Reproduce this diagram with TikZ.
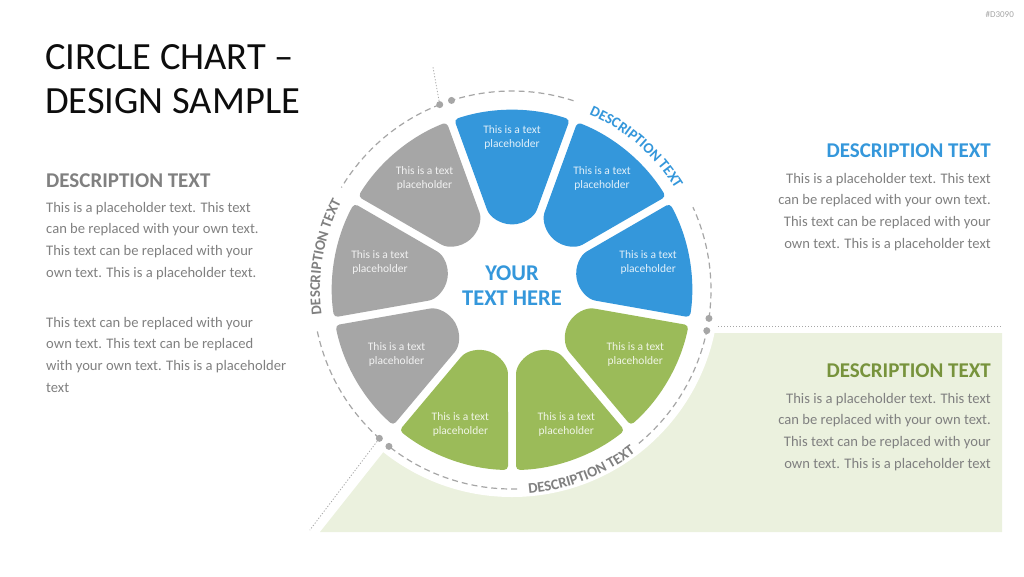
\documentclass[tikz,border=0pt]{standalone}
\usepackage{fontspec}
\setmainfont{Carlito}
\usepackage{tikz}
\usetikzlibrary{calc,decorations.text}
\definecolor{ink}{HTML}{0D0D0D}
\definecolor{azure}{HTML}{3497DB}
\definecolor{leaf}{HTML}{9BBB59}
\definecolor{stone}{HTML}{A6A6A6}
\definecolor{olive}{HTML}{77933C}
\definecolor{muted}{HTML}{808080}
\definecolor{wash}{HTML}{EBF1DE}
\tikzset{
  petal/.style={fill=#1,rounded corners=4pt},
  petaltext/.style={align=center,text=white,text opacity=0.85,
    font=\fontsize{11.5}{14}\selectfont,inner sep=0pt},
  ring/.style={draw=stone,line width=1.2pt,dash pattern=on 6pt off 4pt},
  guide/.style={draw=stone,line width=0.8pt,dash pattern=on 1.2pt off 1.8pt},
  knob/.style={circle,fill=stone,inner sep=0pt,minimum size=7pt},
  heading/.style={font=\fontsize{21}{25}\selectfont\bfseries,inner sep=0pt},
  body/.style={font=\fontsize{14.6}{21.6}\selectfont,text=muted,inner sep=0pt},
  arclabel/.style={decorate,decoration={text along path,text align=center,text color=#1,
    text={|\fontsize{14.8}{15}\selectfont\bfseries|DESCRIPTION TEXT}}}
}

\begin{document}
\begin{tikzpicture}[x=1pt,y=1pt]
  \useasboundingbox (0,0) rectangle (1024,-576);
  \coordinate (c) at (512,-290);
  % backdrop behind the lower right block
  \fill[wash] (320,-532) -- (c) -- (512,-333) -- (1002,-333) -- (1002,-532) -- cycle;
  \fill[white] (c) circle[radius=207pt];
  % dashed ring, three arcs
  \draw[ring] ($(c)+(111.3:199)$) arc[start angle=111.3,end angle=149,radius=199pt];
  \draw[ring] ($(c)+(192:199)$) arc[start angle=192,end angle=228.2,radius=199pt];
  \draw[ring] ($(c)+(72:199)$) arc[start angle=72,end angle=107.7,radius=199pt];
  \draw[ring] ($(c)+(-8.2:199)$) arc[start angle=-8.2,end angle=24.6,radius=199pt];
  \draw[ring] ($(c)+(-88.5:199)$) arc[start angle=-88.5,end angle=-128.2,radius=199pt];
  \draw[ring] ($(c)+(-50.4:199)$) arc[start angle=-50.4,end angle=-11.8,radius=199pt];
  \foreach \ang/\nm in {107.7/k1,111.3/k2,-8.2/k3,-11.8/k4,228.2/k5,231.8/k6}
    \node[knob] (\nm) at ($(c)+(\ang:199)$) {};
  \coordinate (topfar) at ($(c)+(109.5:237)$);
  \coordinate (rightnear) at (718,-326);
  \coordinate (rightfar) at (1002,-326);
  \coordinate (leftfar) at ($(c)+(229.9:314)$);
  \draw[guide] (k2) -- (topfar);
  \draw[guide] (rightnear) -- (rightfar);
  \draw[guide] (k5) -- (leftfar);
  % petals
  \foreach \ang/\col in {90/azure,50/azure,10/azure,-30/leaf,-70/leaf,-110/leaf,210/stone,170/stone,130/stone}
    \fill[petal=\col,shift={(c)},rotate=\ang] (65.6,0) arc[start angle=180,end angle=110,radius=28pt]
      -- (170.5,57.8) arc[start angle=18.73,end angle=-18.73,radius=180pt]
      -- (84,-26.3) arc[start angle=250,end angle=180,radius=28pt];
  \foreach \ang/\rad/\nm in {90/153/t1,51/143/t2,11.6/139/t3,-27.5/139/t4,-68/145/t5,-111/144/t6,209/132/t7,168/135/t8,128/142/t9}
    \node[petaltext] (\nm) at ($(c)+(\ang:\rad)$) {This is a text\\placeholder};
  \node[font=\fontsize{22.5}{25}\selectfont\bfseries,text=azure,align=center,inner sep=0pt] (core) at (512,-286) {YOUR\\TEXT HERE};
  % labels on the ring
  \path[arclabel=azure] ($(c)+(80:192)$) arc[start angle=80,end angle=18,radius=192pt];
  \path[arclabel=muted] ($(c)+(200:192)$) arc[start angle=200,end angle=140,radius=192pt];
  \path[arclabel=muted] ($(c)+(-100:204)$) arc[start angle=-100,end angle=-38,radius=204pt];
  % text blocks
  \node[font=\fontsize{38.5}{44.5}\selectfont,text=ink,align=left,anchor=north west,inner sep=0pt] (title) at (45,-44) {CIRCLE CHART –\\DESIGN SAMPLE};
  \node[heading,text=muted,anchor=base west] (lefthead) at (46,-187) {DESCRIPTION TEXT};
  \node[body,align=left,anchor=base west] (lefttop) at (46,-277) {This is a placeholder text. This text\\can be replaced with your own text.\\This text can be replaced with your\\own text. This is a placeholder text.};
  \node[body,align=left,anchor=base west] (leftlow) at (46,-392) {This text can be replaced with your\\own text. This text can be replaced\\with your own text. This is a placeholder\\text};
  \node[heading,text=azure,anchor=base east] (bluehead) at (991,-157) {DESCRIPTION TEXT};
  \node[body,align=right,anchor=base east] (bluebody) at (991,-248) {This is a placeholder text. This text\\can be replaced with your own text.\\This text can be replaced with your\\own text. This is a placeholder text};
  \node[heading,text=olive,anchor=base east] (greenhead) at (991,-377) {DESCRIPTION TEXT};
  \node[body,align=right,anchor=base east] (greenbody) at (991,-468) {This is a placeholder text. This text\\can be replaced with your own text.\\This text can be replaced with your\\own text. This is a placeholder text};
  \node[font=\fontsize{9}{10}\selectfont,text=stone,anchor=base east,inner sep=0pt] (code) at (1014,-17) {\#D3090};
\end{tikzpicture}
\end{document}
